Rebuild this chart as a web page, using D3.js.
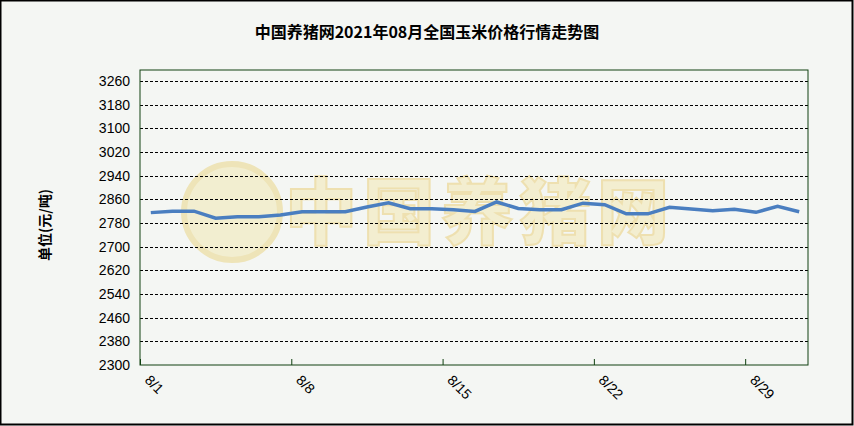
<!DOCTYPE html><html><head><meta charset="utf-8"><script src="https://cdn.jsdelivr.net/npm/d3@7"></script>
<style>body{margin:0;background:#fff}</style></head><body><svg id="c" width="854" height="426"></svg>
<script>
const days = d3.range(1,32).map(d=>"8/"+d);
const prices = [2815,2820,2820,2796,2801,2801,2807,2818,2818,2818,2834,2848,2828,2828,2825,2819,2851,2829,2825,2825,2847,2842,2811,2811,2833,2827,2821,2826,2816,2836,2818];
const yTicks = d3.range(2300,3261,80);
const labelDays = ["8/1","8/8","8/15","8/22","8/29"];
const svg=d3.select("#c");
svg.append("rect").attr("x",0.5).attr("y",0.5).attr("width",852).attr("height",424).attr("fill","#f4f6f3").attr("stroke","#000").attr("stroke-width",2);
const L=140,R=810,T=70,B=365;
const x=d3.scaleBand().domain(days).range([L,R]);
const y=d3.scaleLinear().domain([2300,3300]).range([B,B-1000/80*23.67]);
svg.append("text").attr("x",427).attr("y",38).attr("text-anchor","middle").attr("font-family","Noto Sans CJK SC").attr("font-weight","bold").attr("font-size",16).text("中国养猪网2021年08月全国玉米价格行情走势图");
svg.append("text").attr("x",480).attr("y",238).attr("text-anchor","middle").attr("font-family","Noto Sans CJK SC").attr("font-weight","900").attr("font-size",72).attr("fill","#f3eed0").attr("stroke","#eee0b0").attr("stroke-width",2).attr("letter-spacing",6).text("中国养猪网");
svg.append("circle").attr("cx",232).attr("cy",212).attr("r",48).attr("fill","#f2eed0").attr("stroke","#eee4b8").attr("stroke-width",6);
yTicks.slice(1).forEach(v=>svg.append("line").attr("x1",L).attr("x2",R-2).attr("y1",Math.round(y(v))+.5).attr("y2",Math.round(y(v))+.5).attr("stroke","#000").attr("stroke-dasharray","3,2"));
svg.append("rect").attr("x",L).attr("y",T).attr("width",R-2-L).attr("height",B-T).attr("fill","none").attr("stroke","#104010");
const ya=svg.append("g").attr("transform",`translate(${L},0)`).call(d3.axisLeft(y).tickValues(yTicks).tickFormat(d3.format("d")).tickSize(0).tickPadding(10));
ya.select(".domain").remove();
ya.selectAll("text").attr("font-family","Liberation Sans").attr("font-size",14).attr("fill","#000");
labelDays.forEach(d=>{const xx=x(d);
 svg.append("line").attr("x1",xx+.5).attr("x2",xx+.5).attr("y1",B).attr("y2",B-6).attr("stroke","#104010");
 svg.append("text").attr("transform",`translate(${xx+4},${B+16}) rotate(45)`).attr("font-family","Liberation Sans").attr("font-size",14).text(d);});
svg.append("text").attr("transform","translate(50,225) rotate(-90)").attr("text-anchor","middle").attr("font-family","Noto Sans CJK SC").attr("font-weight","bold").attr("font-size",14).text("单位(元/吨)");
svg.append("path").datum(prices).attr("fill","none").attr("stroke","#4a7ec0").attr("stroke-width",3.5)
 .attr("d",d3.line().x((d,i)=>x(days[i])+x.bandwidth()/2).y(d=>y(d)));
</script></body></html>
